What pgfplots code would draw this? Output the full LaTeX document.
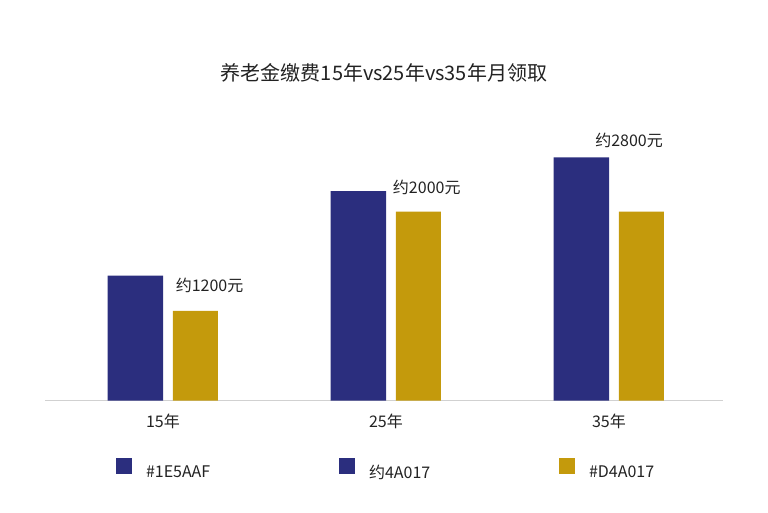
\documentclass[border=0pt]{standalone}
\usepackage{pgfplots}
\pgfplotsset{compat=1.18}
\usepackage{fontspec}
\setmainfont{Noto Sans CJK SC}

\definecolor{cblue}{HTML}{2B2E7E}
\definecolor{cgold}{HTML}{C49A0C}
\definecolor{ctext}{HTML}{222222}

\pgfplotsset{
  sq legend/.style={legend image code/.code={\fill[##1] (0pt,-2.2pt) rectangle (16pt,13.8pt);}},
}

\begin{document}
\begin{tikzpicture}
\path[use as bounding box] (0,0) rectangle (768pt,512pt);
\begin{axis}[
    at={(45pt,111.5pt)}, anchor=south west,
    scale only axis,
    width=677.7pt, height=280pt,
    xmin=-0.5287, xmax=2.51,
    ymin=0, ymax=2688,
    axis x line*=bottom,
    axis y line=none,
    x axis line style={draw=black!18, line width=1.5pt, -},
    xtick={0,1,2},
    xticklabels={15年,25年,35年},
    major tick length=0pt,
    ytick=\empty,
    xticklabel style={anchor=center, yshift=-21pt, font=\fontsize{16}{19}\selectfont, text=ctext},
    title={养老金缴费15年vs25年vs35年月领取},
    title style={at={(axis description cs:0.5002,1.150)}, anchor=center,
      font=\fontsize{20}{24}\selectfont, text=ctext},
    legend columns=3,
    legend cell align=left,
    legend style={at={(axis description cs:0.1048,-0.2446)}, anchor=west,
      draw=none, fill=none, inner sep=0pt, outer sep=0pt, column sep=0pt,
      nodes={inner sep=0pt, font=\fontsize{16}{19}\selectfont, text=ctext}},
  ]
  \addplot[ybar, bar width=55.5pt, bar shift=-27.5pt, fill=cblue, draw=none, sq legend]
    coordinates {(0,1200) (1,2010) (2,2335)};
  \addlegendentry{\makebox[207pt][l]{\hspace{14pt}\#1E5AAF}}
  \addlegendimage{fill=cblue, draw=none, sq legend}
  \addlegendentry{\makebox[204pt][l]{\hspace{14pt}约4A017}}
  \addplot[ybar, bar width=45pt, bar shift=32.5pt, fill=cgold, draw=none, sq legend]
    coordinates {(0,860) (1,1812) (2,1812)};
  \addlegendentry{\makebox[90pt][l]{\hspace{14pt}\#D4A017}}

  \node[font=\fontsize{16}{19}\selectfont, text=ctext] at (axis cs:0.209,1109) {约1200元};
  \node[font=\fontsize{16}{19}\selectfont, text=ctext] at (axis cs:1.183,2050) {约2000元};
  \node[font=\fontsize{16}{19}\selectfont, text=ctext] at (axis cs:2.09,2501) {约2800元};
\end{axis}
\end{tikzpicture}
\end{document}
